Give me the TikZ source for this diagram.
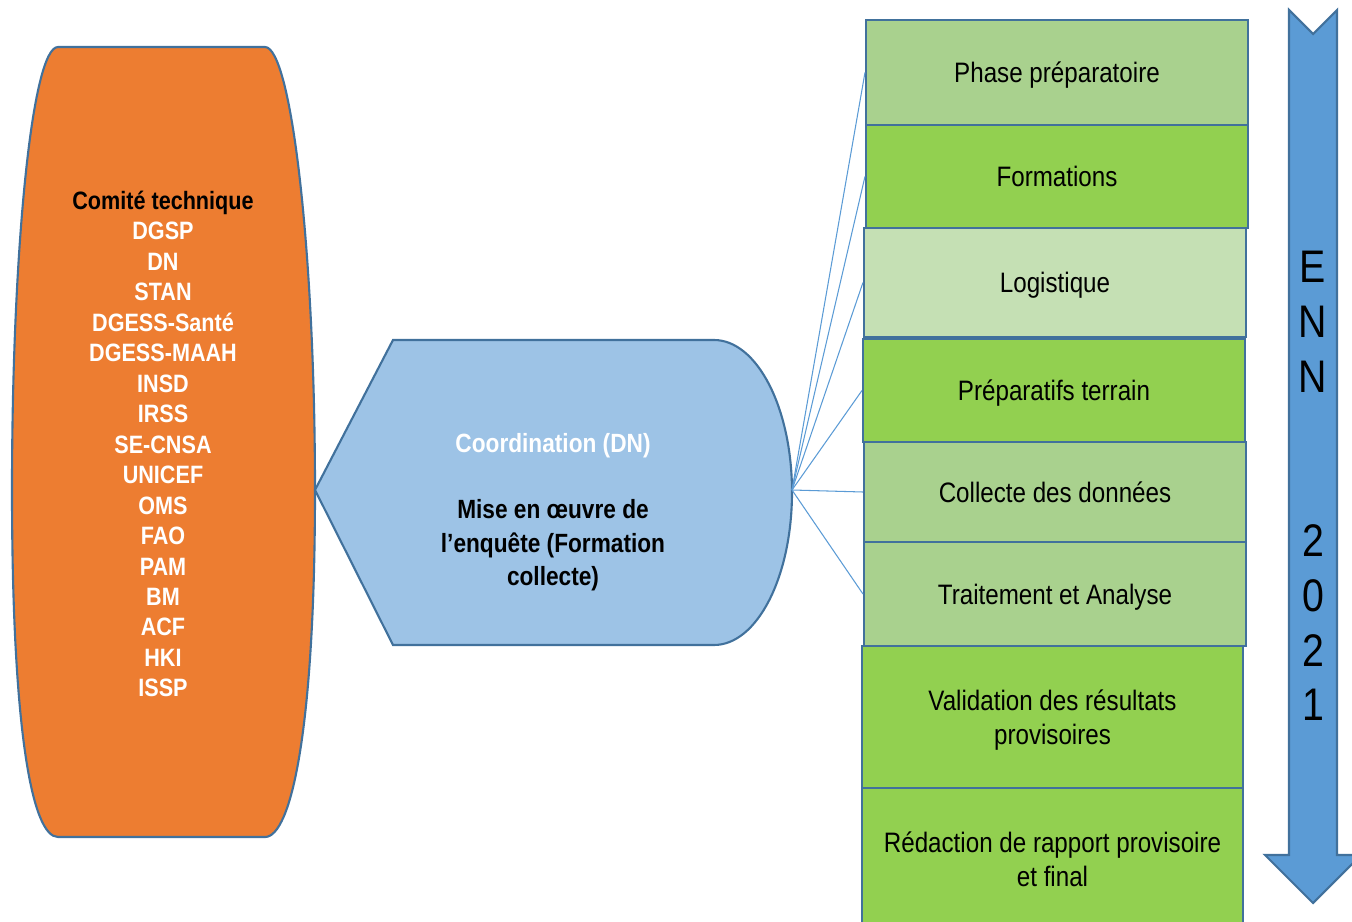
\documentclass[tikz,border=0pt]{standalone}
\usepackage{fontspec}
\setmainfont{Liberation Sans}[FakeStretch=0.86]
\definecolor{edgeblue}{HTML}{41719C}
\definecolor{spokeblue}{HTML}{5B9BD5}
\definecolor{comiteorange}{HTML}{ED7D31}
\definecolor{coordblue}{HTML}{9DC3E6}
\definecolor{arrowblue}{HTML}{5B9BD5}
\definecolor{greenmid}{HTML}{A9D18E}
\definecolor{greenfull}{HTML}{92D050}
\definecolor{greenpale}{HTML}{C5E0B4}

\begin{document}
\begin{tikzpicture}[x=0.02cm,y=-0.02cm,
    every node/.style={align=center,inner sep=0pt},
    stepbox/.style={draw=edgeblue,line width=1.2pt,minimum width=7.64cm,text depth=0pt,font=\fontsize{16}{19}\selectfont},
    spoke/.style={draw=spokeblue,line width=0.6pt}]
    \useasboundingbox (0,0) rectangle (1352,922);
    \draw[fill=comiteorange,draw=edgeblue,line width=1.2pt] (58,47) -- (265,47)
        .. controls (291,47) and (315,250) .. (315,490)
        .. controls (315,730) and (291,837) .. (265,837) -- (58,837)
        .. controls (32,837) and (12,730) .. (12,490)
        .. controls (12,250) and (32,47) .. (58,47) -- cycle;
    \node[font=\bfseries\fontsize{14.3}{17.35}\selectfont,text=white] (comite) at (163,444)
        {\textcolor{black}{Comité technique}\\DGSP\\DN\\STAN\\DGESS-Santé\\DGESS-MAAH\\INSD\\IRSS\\SE-CNSA\\UNICEF\\OMS\\FAO\\PAM\\BM\\ACF\\HKI\\ISSP};
    \draw[fill=coordblue,draw=edgeblue,line width=1.2pt] (315,490) -- (393,340) -- (714,340)
        .. controls (757,340) and (792,408) .. (792,492)
        .. controls (792,577) and (757,645) .. (714,645) -- (393,645) -- cycle;
    \coordinate (hub) at (792,490);
    \node[font=\bfseries\fontsize{15}{19}\selectfont] (coord) at (553,512)
        {\textcolor{white}{Coordination (DN)}\\~\\Mise en œuvre de\\l’enquête (Formation\\collecte)};
    \begin{scope}[every node/.style={stepbox,align=center,inner sep=0pt}]
        \node[fill=greenmid,minimum height=2.1cm] (phase) at (1057,72.5) {Phase préparatoire};
        \node[fill=greenfull,minimum height=2.06cm] (form) at (1057,176.5) {Formations};
        \node[fill=greenpale,minimum height=2.18cm] (logi) at (1055,282.5) {Logistique};
        \node[fill=greenfull,minimum height=2.06cm] (prep) at (1054,390.5) {Préparatifs terrain};
        \node[fill=greenmid,minimum height=2cm] (coll) at (1055,492) {Collecte des données};
        \node[fill=greenmid,minimum height=2.08cm] (trait) at (1055,594) {Traitement et Analyse};
        \node[fill=greenfull,minimum height=2.84cm,minimum width=7.62cm] (valid) at (1052.5,717) {Validation des résultats\\provisoires};
        \node[fill=greenfull,minimum height=2.84cm,minimum width=7.62cm] (redac) at (1052.5,859) {Rédaction de rapport provisoire\\et final};
    \end{scope}
    \draw (hub) edge[spoke] (phase.west);
    \draw (hub) edge[spoke] (form.west);
    \draw (hub) edge[spoke] (logi.west);
    \draw (hub) edge[spoke] (prep.west);
    \draw (hub) edge[spoke] (coll.west);
    \draw (hub) edge[spoke] (trait.west);
    \draw[fill=arrowblue,draw=edgeblue,line width=1.2pt] (1289,10) -- (1313,34) -- (1337,10)
        -- (1337,855) -- (1361,855) -- (1313,903) -- (1265,855) -- (1289,855) -- cycle;
    \node[font=\fontsize{26}{31.2}\selectfont] (enn) at (1313,486) {E\\N\\N\\~\\~\\2\\0\\2\\1};
\end{tikzpicture}
\end{document}
